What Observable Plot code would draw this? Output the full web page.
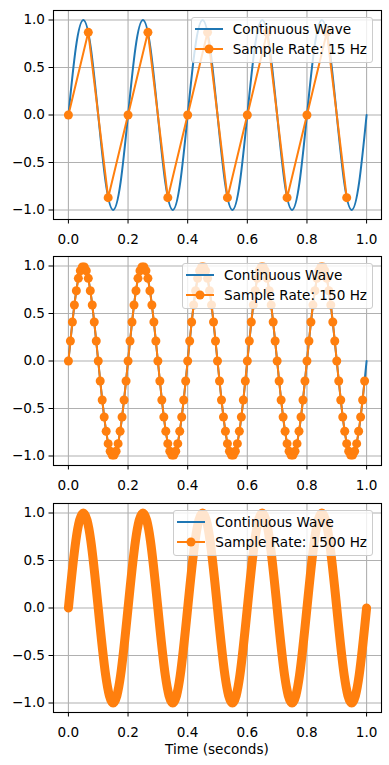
<!DOCTYPE html>
<html>
<head>
<meta charset="utf-8">
<script src="https://cdn.jsdelivr.net/npm/d3@7"></script>
<script src="https://cdn.jsdelivr.net/npm/@observablehq/plot@0.6"></script>
<style>
  html, body { margin: 0; padding: 0; background: white; }
  #fig { position: relative; width: 389px; height: 765px; font-family: "DejaVu Sans", sans-serif; }
  .panel { position: relative; width: 389px; }
  .panel svg { display: block; }
  .legend {
    position: absolute; right: 16px;
    background: rgba(255,255,255,0.8);
    border: 1px solid #cccccc; border-radius: 3px;
    padding: 1px 5px 3px 3px;
    font-size: 13.6px; color: black; white-space: nowrap;
  }
  .legend .row { display: flex; align-items: center; height: 20px; }
  .legend svg { margin-right: 10px; display: block; }
  .xlabel { position: absolute; left: 53px; width: 328px; text-align: center; font-size: 13.6px; color: black; }
</style>
</head>
<body>
<div id="fig"></div>
<script>
// ---- data ----
const sampleRates = [15, 150, 1500];
const seriesNames = ["Continuous Wave", "Sample Rate: 15 Hz", "Sample Rate: 150 Hz", "Sample Rate: 1500 Hz"];
const xTicks = [0, 0.2, 0.4, 0.6, 0.8, 1.0];
const yTicks = [-1.0, -0.5, 0.0, 0.5, 1.0];
const xLabel = "Time (seconds)";

// continuous 5 Hz wave, key points read every 0.025 s
const contTime = [0, 0.025, 0.05, 0.075, 0.1, 0.125, 0.15, 0.175, 0.2, 0.225, 0.25, 0.275, 0.3, 0.325, 0.35, 0.375,
  0.4, 0.425, 0.45, 0.475, 0.5, 0.525, 0.55, 0.575, 0.6, 0.625, 0.65, 0.675, 0.7, 0.725, 0.75, 0.775,
  0.8, 0.825, 0.85, 0.875, 0.9, 0.925, 0.95, 0.975, 1.0];
const contValue = [0, 0.71, 1, 0.71, 0, -0.71, -1, -0.71,
  0, 0.71, 1, 0.71, 0, -0.71, -1, -0.71,
  0, 0.71, 1, 0.71, 0, -0.71, -1, -0.71,
  0, 0.71, 1, 0.71, 0, -0.71, -1, -0.71,
  0, 0.71, 1, 0.71, 0, -0.71, -1, -0.71, 0];

// samples at 15 Hz
const sample15Value = [0, 0.87, -0.87, 0, 0.87, -0.87, 0, 0.87, -0.87, 0, 0.87, -0.87, 0, 0.87, -0.87];

// samples at 150 Hz
const sample150Value = [
  0, 0.21, 0.41, 0.59, 0.74, 0.87, 0.95, 0.99, 0.99, 0.95, 0.87, 0.74, 0.59, 0.41, 0.21, 0, -0.21, -0.41, -0.59, -0.74, -0.87, -0.95, -0.99, -0.99, -0.95, -0.87, -0.74, -0.59, -0.41, -0.21,
  0, 0.21, 0.41, 0.59, 0.74, 0.87, 0.95, 0.99, 0.99, 0.95, 0.87, 0.74, 0.59, 0.41, 0.21, 0, -0.21, -0.41, -0.59, -0.74, -0.87, -0.95, -0.99, -0.99, -0.95, -0.87, -0.74, -0.59, -0.41, -0.21,
  0, 0.21, 0.41, 0.59, 0.74, 0.87, 0.95, 0.99, 0.99, 0.95, 0.87, 0.74, 0.59, 0.41, 0.21, 0, -0.21, -0.41, -0.59, -0.74, -0.87, -0.95, -0.99, -0.99, -0.95, -0.87, -0.74, -0.59, -0.41, -0.21,
  0, 0.21, 0.41, 0.59, 0.74, 0.87, 0.95, 0.99, 0.99, 0.95, 0.87, 0.74, 0.59, 0.41, 0.21, 0, -0.21, -0.41, -0.59, -0.74, -0.87, -0.95, -0.99, -0.99, -0.95, -0.87, -0.74, -0.59, -0.41, -0.21,
  0, 0.21, 0.41, 0.59, 0.74, 0.87, 0.95, 0.99, 0.99, 0.95, 0.87, 0.74, 0.59, 0.41, 0.21, 0, -0.21, -0.41, -0.59, -0.74, -0.87, -0.95, -0.99, -0.99, -0.95, -0.87, -0.74, -0.59, -0.41, -0.21
];

// 1500 Hz samples overlap into a continuous band: same key points as the wave
const sample1500Time = contTime;
const sample1500Value = contValue;

// ---- build ----
const BLUE = "#1f77b4", ORANGE = "#ff7f0e";
const cont = contTime.map((t, i) => ({t, v: contValue[i]}));
const s15 = sample15Value.map((v, i) => ({t: i / sampleRates[0], v}));
const s150 = sample150Value.map((v, i) => ({t: i / sampleRates[1], v}));
const s1500 = sample1500Time.map((t, i) => ({t, v: sample1500Value[i]}));

const fmt = d => d.toFixed(1).replace("-", "\u2212");
const fig = document.getElementById("fig");

function legendHTML(sampleLabel) {
  return `<div class="row"><svg width="28" height="10"><line x1="0" x2="28" y1="5" y2="5" stroke="${BLUE}" stroke-width="2"/></svg><span>${seriesNames[0]}</span></div>` +
         `<div class="row"><svg width="28" height="10"><line x1="0" x2="28" y1="5" y2="5" stroke="${ORANGE}" stroke-width="2"/><circle cx="14" cy="5" r="4.5" fill="${ORANGE}"/></svg><span>${sampleLabel}</span></div>`;
}

function panel({height, marginTop, marginBottom, sampleMarks, sampleLabel, xlab}) {
  const div = document.createElement("div");
  div.className = "panel";
  const plot = Plot.plot({
    width: 389, height, marginLeft: 53, marginRight: 8, marginTop, marginBottom,
    x: {domain: [-0.05, 1.05]},
    y: {domain: [-1.1, 1.1]},
    style: {fontFamily: "DejaVu Sans", fontSize: "13.6px", color: "black", background: "white", overflow: "visible"},
    marks: [
      Plot.gridX(xTicks, {stroke: "#b0b0b0", strokeOpacity: 1, strokeWidth: 1.1}),
      Plot.gridY(yTicks, {stroke: "#b0b0b0", strokeOpacity: 1, strokeWidth: 1.1}),
      Plot.line(cont, {x: "t", y: "v", curve: "natural", stroke: BLUE, strokeWidth: 2}),
      ...sampleMarks,
      Plot.frame({stroke: "black", strokeWidth: 1.1}),
      Plot.axisX(xTicks, {tickSize: 4.5, tickPadding: 10, tickFormat: fmt, fontSize: 13.6, label: null}),
      Plot.axisY(yTicks, {tickSize: 4.5, tickPadding: 4, tickFormat: fmt, fontSize: 13.6, label: null})
    ]
  });
  div.appendChild(plot);
  const leg = document.createElement("div");
  leg.className = "legend";
  leg.style.top = (marginTop + 7) + "px";
  leg.innerHTML = legendHTML(sampleLabel);
  div.appendChild(leg);
  if (xlab) {
    const xl = document.createElement("div");
    xl.className = "xlabel";
    xl.style.top = (height - marginBottom + 29) + "px";
    xl.textContent = xlab;
    div.appendChild(xl);
  }
  fig.appendChild(div);
}

panel({height: 245, marginTop: 10, marginBottom: 26, sampleLabel: seriesNames[1],
  sampleMarks: [
    Plot.line(s15, {x: "t", y: "v", stroke: ORANGE, strokeWidth: 2}),
    Plot.dot(s15, {x: "t", y: "v", r: 4.5, fill: ORANGE})
  ]});
panel({height: 247, marginTop: 11, marginBottom: 27, sampleLabel: seriesNames[2],
  sampleMarks: [
    Plot.line(s150, {x: "t", y: "v", stroke: ORANGE, strokeWidth: 2}),
    Plot.dot(s150, {x: "t", y: "v", r: 4.5, fill: ORANGE})
  ]});
panel({height: 273, marginTop: 11, marginBottom: 53, sampleLabel: seriesNames[3], xlab: xLabel,
  sampleMarks: [
    Plot.line(s1500, {x: "t", y: "v", curve: "natural", stroke: ORANGE, strokeWidth: 9, strokeLinecap: "round"})
  ]});
</script>
</body>
</html>
